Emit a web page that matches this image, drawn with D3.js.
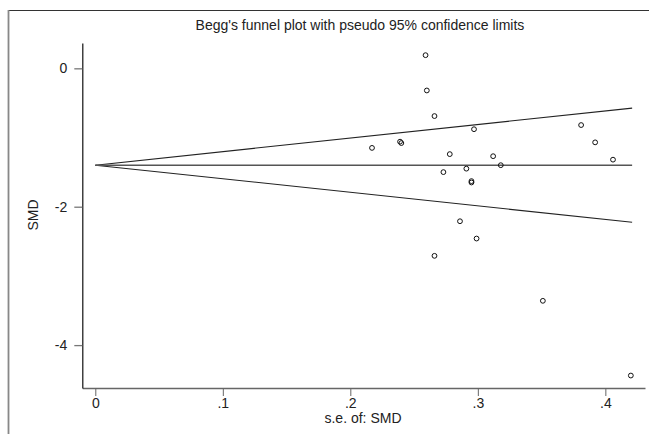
<!DOCTYPE html>
<html lang="en">

<head>
  <meta charset="UTF-8">
  <title>Begg's funnel plot</title>
  <style>
    body {
      margin: 0;
      background: #fff;
    }

    svg {
      display: block;
    }

    text {
      font-family: "Liberation Sans", Arial, sans-serif;
      fill: #222;
    }
  </style>
</head>

<body>
  <svg width="649" height="434"></svg>
  <script src="https://d3js.org/d3.v7.min.js"></script>
  <script>
    // studies: standard error and SMD
    var se = [0.259, 0.260, 0.266, 0.297, 0.381, 0.392, 0.406, 0.217, 0.239, 0.240, 0.278,
      0.312, 0.318, 0.291, 0.273, 0.295, 0.295, 0.286, 0.299, 0.266, 0.351, 0.420];
    var smd = [0.19, -0.32, -0.69, -0.88, -0.82, -1.07, -1.32, -1.15, -1.06, -1.08, -1.24,
      -1.27, -1.40, -1.45, -1.50, -1.63, -1.65, -2.21, -2.46, -2.71, -3.36, -4.44];

    // pseudo 95% limits (endpoints) and pooled estimate
    var limitSe = [0, 0.421];
    var upperLimit = [-1.40, -0.575];
    var lowerLimit = [-1.40, -2.225];
    var pooled = [-1.40, -1.40];

    var xTicks = [0, 0.1, 0.2, 0.3, 0.4];
    var yTicks = [0, -2, -4];

    var svg = d3.select('svg');

    // scales
    var xScale = d3.scaleLinear()
      .domain([-0.0102, 0.4311])
      .range([82.3, 645]);
    var yScale = d3.scaleLinear()
      .domain([-4.62, 0.366])
      .range([388, 43]);

    // outer frame
    svg.append('line')
      .attr('x1', 8).attr('x2', 649).attr('y1', 10.5).attr('y2', 10.5)
      .style('stroke', '#333').style('stroke-width', 1.2);
    svg.append('line')
      .attr('x1', 8.5).attr('x2', 8.5).attr('y1', 10).attr('y2', 434)
      .style('stroke', '#888').style('stroke-width', 1.8);

    // title
    svg.append('text')
      .attr('x', 360).attr('y', 30)
      .attr('text-anchor', 'middle')
      .style('font-size', '14px')
      .text("Begg's funnel plot with pseudo 95% confidence limits");

    // axes
    var xAxis = d3.axisBottom(xScale)
      .tickValues(xTicks)
      .tickSize(8)
      .tickSizeOuter(0)
      .tickPadding(2)
      .tickFormat(d => d === 0 ? '0' : d3.format('.1f')(d).replace(/^0/, ''));
    var yAxis = d3.axisLeft(yScale)
      .tickValues(yTicks)
      .tickSize(8)
      .tickSizeOuter(0)
      .tickPadding(7)
      .tickFormat(d => String(d));

    var gx = svg.append('g')
      .attr('transform', 'translate(' + [0, 388] + ')')
      .call(xAxis);
    gx.select('.domain').style('stroke', '#666').style('stroke-width', 1.5);
    gx.selectAll('.tick line').style('stroke', '#666');
    gx.selectAll('.tick text').style('font-size', '14px').style('font-family', '"Liberation Sans", Arial, sans-serif').style('fill', '#222');

    var gy = svg.append('g')
      .attr('transform', 'translate(' + [82.3, 0] + ')')
      .call(yAxis);
    gy.select('.domain').style('stroke', '#111').style('stroke-width', 1.2);
    gy.selectAll('.tick line').style('stroke', '#777').style('stroke-width', 1.3);
    gy.selectAll('.tick text').style('font-size', '14px').style('font-family', '"Liberation Sans", Arial, sans-serif').style('fill', '#222');

    // axis titles
    svg.append('text')
      .attr('x', 363).attr('y', 423)
      .attr('text-anchor', 'middle')
      .style('font-size', '14px')
      .text('s.e. of: SMD');
    svg.append('text')
      .attr('transform', 'translate(38,215) rotate(-90)')
      .attr('text-anchor', 'middle')
      .style('font-size', '14px')
      .text('SMD');

    // funnel lines
    var line = d3.line()
      .x(d => xScale(d[0]))
      .y(d => yScale(d[1]));

    [upperLimit, lowerLimit, pooled].forEach((lim, i) => {
      svg.append('path')
        .attr('d', line(d3.zip(limitSe, lim)))
        .style('fill', 'none')
        .style('stroke', i === 2 ? '#555' : '#222')
        .style('stroke-width', i === 2 ? 1.5 : 1.1);
    });

    // studies
    svg.append('g')
      .selectAll('circle')
      .data(d3.zip(se, smd))
      .join('circle')
      .attr('cx', d => xScale(d[0]))
      .attr('cy', d => yScale(d[1]))
      .attr('r', 2.4)
      .style('fill', 'none')
      .style('stroke', '#111')
      .style('stroke-width', 1);
  </script>
</body>

</html>
